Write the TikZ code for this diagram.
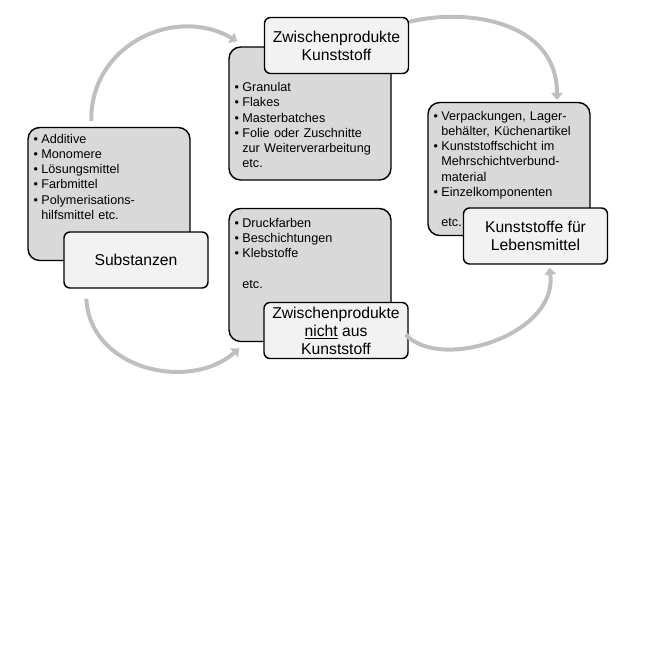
\documentclass[tikz,border=0pt]{standalone}
\usepackage{fontspec}
\setmainfont{Liberation Sans}
\usetikzlibrary{arrows.meta,calc}

\tikzset{
  grau/.style={draw=black, line width=1.2pt, fill=black!15, rounded corners=3.5mm,
    minimum width=48.6mm, minimum height=39.9mm},
  etikett/.style={draw=black, line width=1.2pt, fill=black!5, rounded corners=1.8mm,
    minimum width=43.2mm, minimum height=16.8mm, align=center, inner sep=1pt,
    font=\fontsize{13.4}{15.4}\selectfont},
  liste/.style={anchor=north west, inner sep=0pt, text width=46mm,
    font=\fontsize{10.8}{13}\selectfont},
  pfeil/.style={draw=black!25, line width=3.4pt, -{Triangle[length=6pt,width=10pt]}},
}
\newcommand{\bitem}[1]{\par\noindent\makebox[0.62em][l]{\textbullet}#1}
\newcommand{\weiter}[1]{\par\noindent\hspace*{0.62em}#1}

\begin{document}
\begin{tikzpicture}[x=0.3mm,y=0.3mm]
	\useasboundingbox (0,0) rectangle (660,-660);
	% graue Kaesten
	\node[grau] (g1) at (109,-194) {};
	\node[grau] (g2) at (310,-113.5) {};
	\node[grau] (g3) at (310,-275) {};
	\node[grau] (g4) at (509,-169) {};
	%
	\node[liste] (t1) at ($(g1.north west)+(6,-1)$) {%
		\bitem{Additive}
		\bitem{Monomere}
		\bitem{Lösungsmittel}
		\bitem{Farbmittel}
		\bitem{Polymerisations-}
		\weiter{hilfsmittel etc.}};
	\node[liste] (t2) at ($(g2.north west)+(6,-30)$) {%
		\bitem{Granulat}
		\bitem{Flakes}
		\bitem{Masterbatches}
		\bitem{Folie oder  Zuschnitte}
		\weiter{zur Weiterverarbeitung}
		\weiter{etc.}};
	\node[liste] (t3) at ($(g3.north west)+(6,-4)$) {%
		\bitem{Druckfarben}
		\bitem{Beschichtungen}
		\bitem{Klebstoffe}
		\weiter{}
		\weiter{etc.}};
	\node[liste] (t4) at ($(g4.north west)+(6,-3)$) {%
		\bitem{Verpackungen, Lager-}
		\weiter{behälter, Küchenartikel}
		\bitem{Kunststoffschicht im}
		\weiter{Mehrschichtverbund-}
		\weiter{material}
		\bitem{Einzelkomponenten}
		\weiter{}
		\weiter{etc.}};
	% Etiketten
	\node[etikett] (l1) at (136,-260) {Substanzen};
	\node[etikett] (l2) at (336.5,-45.5) {Zwischenprodukte\\Kunststoff};
	\node[etikett] (l3) at (336,-330.5) {Zwischenprodukte\\\underline{nicht} aus\\Kunststoff};
	\node[etikett] (l4) at (535.5,-236) {Kunststoffe für\\Lebensmittel};
	% Pfeile
	\draw[pfeil] ($(g1.north west)+(64,6)$) .. controls (90,-45) and (175,-5) .. ($(g2.north west)+(9,5)$);
	\draw[pfeil] ($(l2.north east)+(0,-5)$) .. controls (465,-8) and (557,-20) .. ($(g4.north)+(48,2)$);
	\draw[pfeil] ($(l1.south west)+(23,-10)$) .. controls (90,-370) and (190,-392) .. ($(g3.south west)+(11,-6)$);
	\draw[pfeil] ($(l3.east)+(-3,-4)$) .. controls (440,-372) and (558,-335) .. ($(l4.south)+(14,-3)$);
\end{tikzpicture}
\end{document}
